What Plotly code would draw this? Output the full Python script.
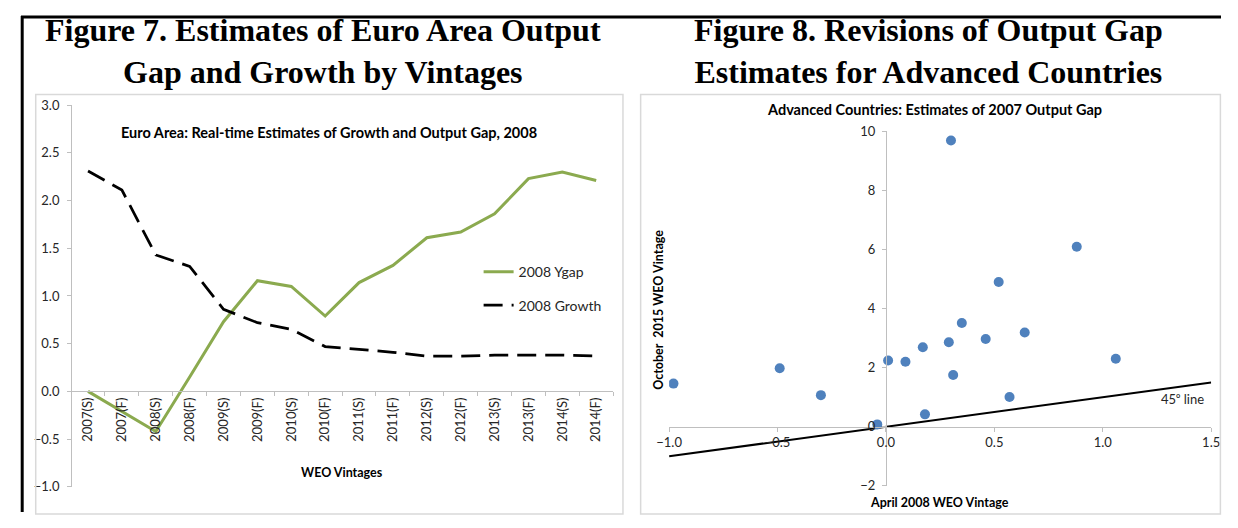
import plotly.graph_objects as go

# ---------------- data ----------------
vintages = ["2007(S)", "2007(F)", "2008(S)", "2008(F)", "2009(S)", "2009(F)",
            "2010(S)", "2010(F)", "2011(S)", "2011(F)", "2012(S)", "2012(F)",
            "2013(S)", "2013(F)", "2014(S)", "2014(F)"]
ygap_2008 = [0.00, -0.21, -0.42, 0.15, 0.73, 1.16, 1.10, 0.79, 1.14, 1.32,
             1.61, 1.67, 1.86, 2.23, 2.30, 2.21]
growth_2008 = [2.31, 2.11, 1.43, 1.31, 0.86, 0.72, 0.65, 0.47, 0.44, 0.41,
               0.37, 0.37, 0.38, 0.38, 0.38, 0.37]

apr2008_gap = [-0.98, -0.49, -0.30, -0.04, 0.01, 0.09, 0.17, 0.18, 0.29, 0.30,
               0.31, 0.35, 0.46, 0.52, 0.57, 0.64, 0.88, 1.06]
oct2015_gap = [1.46, 1.98, 1.07, 0.08, 2.24, 2.20, 2.69, 0.42, 2.86, 9.69,
               1.75, 3.51, 2.97, 4.90, 1.01, 3.19, 6.09, 2.30]

line45_x = [-1.0, 1.5]
line45_y = [-1.0, 1.5]

# The page body keeps its default 8px margin, so the figure is sized to fit
# inside a 1238x528 window and page coordinates are shifted by 8px.
OFF = 8
W, H = 1238 - 2 * OFF, 528 - 2 * OFF
def px(x):
    return (x - OFF) / W
def py(y):
    return 1 - (y - OFF) / H

SANS = "Lato, Calibri, sans-serif"
SERIF = "Liberation Serif, Times New Roman, serif"
GREEN = "#8BAA4F"
BLUE = "#4F81BD"
AXC = "#BFBFBF"
TXT = "#262626"

fig = go.Figure()
fig.add_trace(go.Scatter(x=vintages, y=ygap_2008, mode="lines", name="2008 Ygap",
                         line=dict(color=GREEN, width=3), legendgroup="a",
                         xaxis="x", yaxis="y"))
fig.add_trace(go.Scatter(x=vintages, y=growth_2008, mode="lines", name="2008 Growth",
                         line=dict(color="black", width=2.75, dash="19px,9px"),
                         legendgroup="b", xaxis="x", yaxis="y"))
fig.add_trace(go.Scatter(x=line45_x, y=line45_y, mode="lines", showlegend=False,
                         line=dict(color="black", width=2), xaxis="x2", yaxis="y2"))
fig.add_trace(go.Scatter(x=apr2008_gap, y=oct2015_gap, mode="markers", showlegend=False,
                         marker=dict(color=BLUE, size=10), xaxis="x2", yaxis="y2"))

# left plot geometry (page pixels)
L_x0, L_x1 = 59, 611
L_ytop, L_ybot = 100, 494
L_zero = L_ytop + (L_ybot - L_ytop) * 3 / 4
# right plot geometry
R_x0, R_x1 = 668, 1220
R_ytop, R_ybot = 127, 493
R_yzero = R_ybot - (R_ybot - R_ytop) * 2 / 12
R_xzero = R_x0 + (R_x1 - R_x0) * 1 / 2.5

common = dict(showgrid=False, zeroline=False, showline=True, linecolor=AXC, linewidth=1,
              ticks="outside", ticklen=4, tickcolor=AXC,
              tickfont=dict(family=SANS, size=13, color=TXT))

fig.update_layout(
    width=W, height=H, margin=dict(l=0, r=0, t=0, b=0),
    paper_bgcolor="white", plot_bgcolor="rgba(0,0,0,0)",
    xaxis=dict(domain=[px(L_x0), px(L_x1)], anchor="free", position=py(L_zero),
               type="category", range=[-0.5, 15.5], tickson="boundaries",
               tickangle=-90, **common),
    yaxis=dict(domain=[py(L_ybot), py(L_ytop)], anchor="free", position=px(L_x0),
               range=[-1, 3], dtick=0.5, tickformat=".1f", ticklabelstandoff=5, **common),
    xaxis2=dict(domain=[px(R_x0), px(R_x1)], anchor="free", position=py(R_yzero),
                range=[-1, 1.5], dtick=0.5, tickformat=".1f", **common),
    yaxis2=dict(domain=[py(R_ybot), py(R_ytop)], anchor="free", position=px(R_xzero),
                range=[-2, 10], dtick=2, ticklabelstandoff=4, **common),
    legend=dict(x=px(474), y=py(256), xanchor="left", yanchor="top",
                bgcolor="rgba(0,0,0,0)", font=dict(family=SANS, size=14, color=TXT),
                traceorder="grouped", tracegroupgap=12),
    showlegend=True,
)

# frames
shapes = [
    dict(type="rect", xref="paper", yref="paper", x0=px(23), x1=px(621), y0=py(522), y1=py(89),
         line=dict(color="#D9D9D9", width=1.5)),
    dict(type="rect", xref="paper", yref="paper", x0=px(639), x1=0.9995, y0=py(522), y1=py(89),
         line=dict(color="#D9D9D9", width=1.5)),
    dict(type="line", xref="paper", yref="paper", x0=0.001, x1=0.001, y0=0, y1=1,
         line=dict(color="black", width=3)),
    dict(type="line", xref="paper", yref="paper", x0=0, x1=1, y0=0.998, y1=0.998,
         line=dict(color="black", width=3)),
]
fig.update_layout(shapes=shapes)

ann = [
    dict(text="<b>Figure 7. Estimates of Euro Area Output<br>Gap and Growth by Vintages</b>",
         x=px(316), y=py(44), font=dict(family=SERIF, size=32, color="black")),
    dict(text="<b>Figure 8. Revisions of Output Gap<br>Estimates for Advanced Countries</b>",
         x=px(932), y=py(44), font=dict(family=SERIF, size=32, color="black")),
    dict(text="<b>Euro Area: Real-time Estimates of Growth and Output Gap, 2008</b>",
         x=px(322), y=py(128), font=dict(family=SANS, size=14.5, color="black")),
    dict(text="<b>WEO Vintages</b>", x=px(335), y=py(479),
         font=dict(family=SANS, size=12.5, color="black")),
    dict(text="<b>Advanced Countries: Estimates of 2007 Output Gap</b>",
         x=px(938), y=py(105), font=dict(family=SANS, size=14.5, color="black")),
    dict(text="<b>April 2008 WEO Vintage</b>", x=px(943), y=py(510),
         font=dict(family=SANS, size=12.5, color="black")),
    dict(text="<b>October  2015 WEO Vintage</b>", x=px(657), y=py(311), textangle=-90,
         font=dict(family=SANS, size=12.5, color="black")),
    dict(text="45⁰ line", x=1.37, y=0.93, xref="x2", yref="y2",
         font=dict(family=SANS, size=13, color=TXT)),
]
for a in ann:
    a.setdefault("xref", "paper")
    a.setdefault("yref", "paper")
    a.update(showarrow=False, xanchor="center", yanchor="middle")
fig.update_layout(annotations=ann)

fig.write_html("out.html", config={"displayModeBar": False})
